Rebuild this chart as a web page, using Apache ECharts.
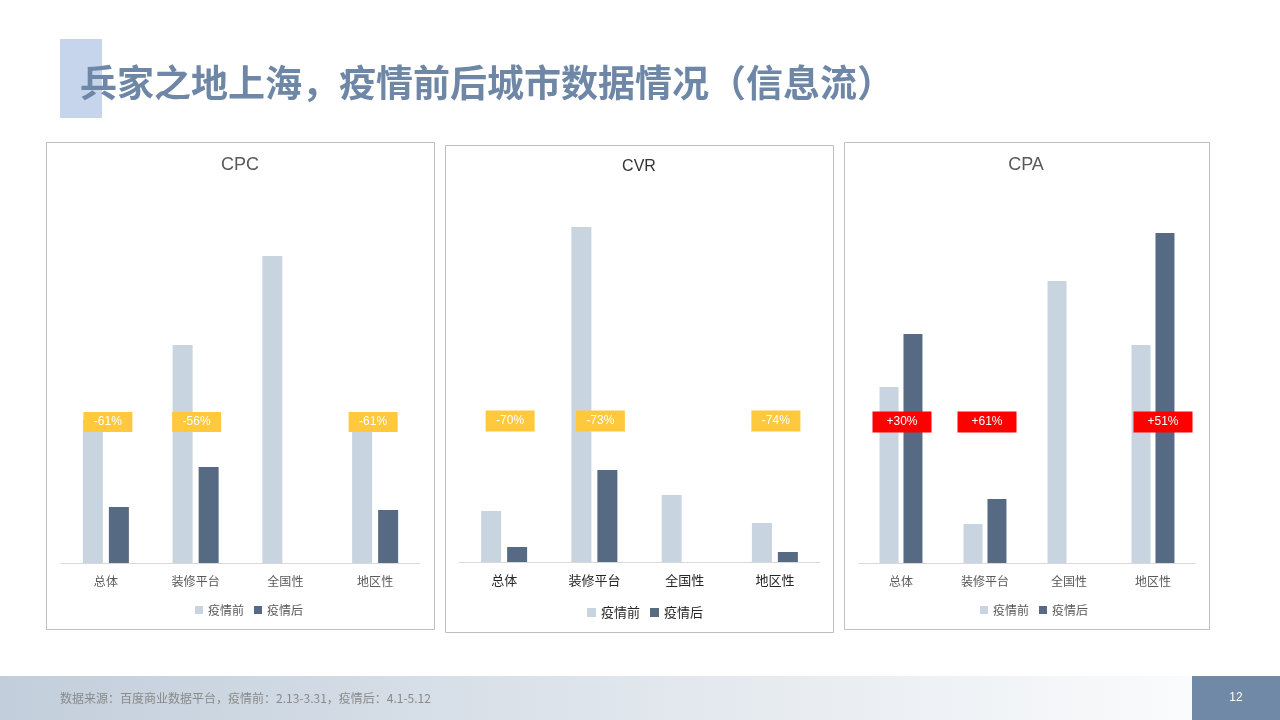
<!DOCTYPE html>
<html>
<head>
<meta charset="utf-8">
<script src="https://cdn.jsdelivr.net/npm/echarts@6/dist/echarts.min.js"></script>
<style>
html,body{margin:0;padding:0;background:#fff;}
#c{width:1280px;height:720px;}
</style>
</head>
<body>
<div id="c"></div>
<script>
// ---- data ----
const categories = ['总体', '装修平台', '全国性', '地区性'];
const seriesNames = ['疫情前', '疫情后'];

const cpcBefore = [143, 218, 307, 136];
const cpcAfter  = [56, 96, null, 53];
const cpcChange = ['-61%', '-56%', null, '-61%'];

const cvrBefore = [51, 335, 67, 39];
const cvrAfter  = [15, 92, null, 10];
const cvrChange = ['-70%', '-73%', null, '-74%'];

const cpaBefore = [176, 39, 282, 218];
const cpaAfter  = [229, 64, null, 330];
const cpaChange = ['+30%', '+61%', null, '+51%'];

const labelLevel = 141;

const mainTitle = '兵家之地上海，疫情前后城市数据情况（信息流）';
const footerText = '数据来源：百度商业数据平台，疫情前：2.13-3.31，疫情后：4.1-5.12';
const pageNo = '12';

// ---- chart ----
const LATIN = '"Liberation Sans","Noto Sans CJK SC",sans-serif';
const CJK = '"Noto Sans CJK SC","Liberation Sans",sans-serif';
const LIGHT = '#c8d4df';
const DARK = '#576a84';

const panels = [
  {name:'CPC', before:cpcBefore, after:cpcAfter, change:cpcChange, box:[46.5,142.5,388,487],
   grid:{left:61, width:359, top:163, height:400}, titleColor:'#595959', titleSize:18, titleTop:152, titleX:240,
   axisColor:'#595959', axisSize:12, legendLeft:190, legendTop:599, legendSize:12, icon:8,
   tag:'#ffc83d', tagSize:[49,20], tagOffsets:[2,1,0,-2], barWidth:20, barGap:'30%'},
  {name:'CVR', before:cvrBefore, after:cvrAfter, change:cvrChange, box:[445.5,145.5,388,487],
   grid:{left:459, width:361, top:162, height:400}, titleColor:'#333333', titleSize:16, titleTop:154, titleX:639,
   axisColor:'#262626', axisSize:13, legendLeft:582, legendTop:601, legendSize:13, icon:9,
   tag:'#ffc83d', tagSize:[49,21], tagOffsets:[6,6,0,1], barWidth:20, barGap:'30%'},
  {name:'CPA', before:cpaBefore, after:cpaAfter, change:cpaChange, box:[844.5,142.5,365,487],
   grid:{left:859, width:336, top:163, height:400}, titleColor:'#595959', titleSize:18, titleTop:152, titleX:1026,
   axisColor:'#595959', axisSize:12, legendLeft:975, legendTop:599, legendSize:12, icon:8,
   tag:'#ff0000', tagSize:[59,21], tagOffsets:[1,2,0,10], barWidth:19, barGap:'26%'}
];

const option = {
  animation:false,
  backgroundColor:'#ffffff',
  title:[], grid:[], xAxis:[], yAxis:[], legend:[], series:[],
  graphic:[]
};

// header & footer
option.graphic.push(
  {type:'rect', shape:{x:60, y:39, width:42, height:79}, style:{fill:'#c6d5ec'}, z:-20},
  {type:'text', x:80, y:83, style:{text:mainTitle, font:'bold 37px "Noto Sans CJK SC",sans-serif',
    fill:'#6f87a6', textVerticalAlign:'middle'}, z:10},
  {type:'rect', shape:{x:0, y:676, width:1192, height:44},
    style:{fill:new echarts.graphic.LinearGradient(0,0,1,0,[{offset:0,color:'#c2cedb'},{offset:1,color:'#fafbfc'}])}, z:-20},
  {type:'rect', shape:{x:1192, y:676, width:88, height:44}, style:{fill:'#6f89a7'}, z:-20},
  {type:'text', x:60, y:698, style:{text:footerText, font:'12px "Noto Sans CJK SC",sans-serif',
    fill:'#8a8a8a', textVerticalAlign:'middle'}, z:10},
  {type:'text', x:1236, y:698, style:{text:pageNo, font:'12px "Liberation Sans",sans-serif',
    fill:'#ffffff', textAlign:'center', textVerticalAlign:'middle'}, z:10}
);

panels.forEach((p, i) => {
  const b = p.box;
  option.graphic.push({type:'rect', shape:{x:b[0], y:b[1], width:b[2], height:b[3]},
    style:{fill:'#ffffff', stroke:'#bfbfbf', lineWidth:1}, z:-15});
  option.graphic.push({type:'text', x:p.titleX, y:p.titleTop + 13, style:{text:p.name,
    font:p.titleSize + 'px "Liberation Sans",sans-serif', fill:p.titleColor, textAlign:'center', textVerticalAlign:'middle'}, z:10});
  option.grid.push(Object.assign({containLabel:false}, p.grid));
  option.xAxis.push({type:'category', gridIndex:i, data:categories,
    axisLine:{lineStyle:{color:'#d9d9d9', width:1}}, axisTick:{show:false},
    axisLabel:{color:p.axisColor, fontSize:p.axisSize, fontFamily:CJK, margin:12, interval:0}});
  option.yAxis.push({type:'value', gridIndex:i, min:0, max:400, show:false, splitLine:{show:false}});
  option.legend.push({data:seriesNames, left:p.legendLeft, top:p.legendTop, itemWidth:p.icon, itemHeight:p.icon,
    itemGap:10, icon:'rect', textStyle:{color:p.axisColor, fontSize:p.legendSize, fontFamily:CJK},
    selectedMode:false});
  option.series.push(
    {type:'bar', name:seriesNames[0], xAxisIndex:i, yAxisIndex:i, data:p.before, barWidth:p.barWidth,
      barGap:p.barGap, itemStyle:{color:LIGHT}, z:2},
    {type:'bar', name:seriesNames[1], xAxisIndex:i, yAxisIndex:i, data:p.after, barWidth:p.barWidth,
      barGap:p.barGap, itemStyle:{color:DARK}, z:2},
    {type:'scatter', name:'change'+i, xAxisIndex:i, yAxisIndex:i, symbol:'rect', symbolSize:p.tagSize,
      itemStyle:{color:p.tag, opacity:1}, z:5, silent:true,
      data:p.change.map((t, k) => t ? {value:[k, labelLevel, t], symbolOffset:[p.tagOffsets[k], 0]} : null).filter(d => d),
      label:{show:true, position:'inside', formatter:q => q.value[2], color:'#ffffff', fontSize:12, fontFamily:LATIN}}
  );
});

const chart = echarts.init(document.getElementById('c'), null, {renderer:'canvas'});
chart.setOption(option);
</script>
</body>
</html>
